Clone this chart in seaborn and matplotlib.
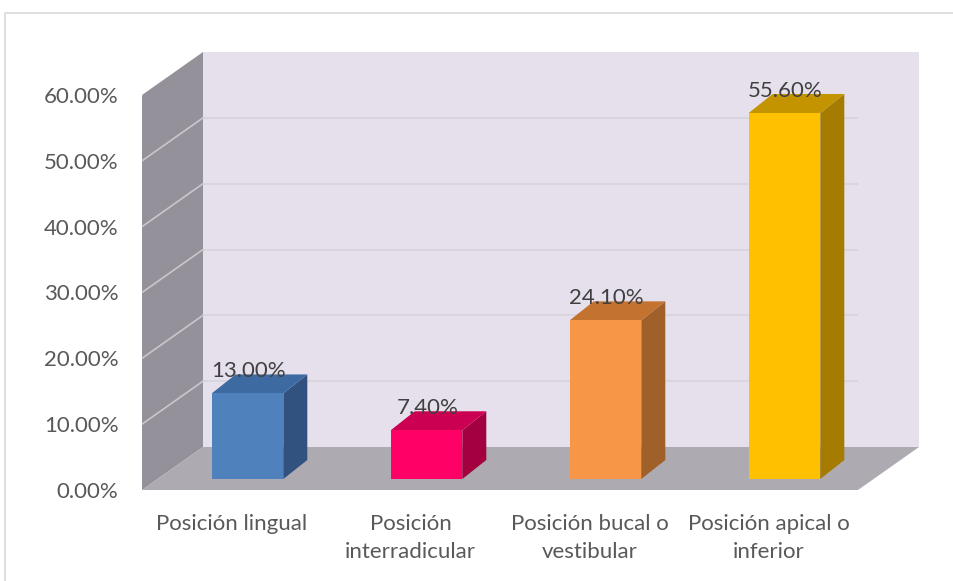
import matplotlib
matplotlib.use("Agg")
import matplotlib.pyplot as plt
from matplotlib.patches import Polygon, Rectangle
from matplotlib.transforms import IdentityTransform, ScaledTranslation
import numpy as np
import pandas as pd
import seaborn as sns

# ---------------- data ----------------
categories = ["Posición lingual", "Posición interradicular",
              "Posición bucal o vestibular", "Posición apical o inferior"]
tick_labels = ["Posición lingual", "Posición\ninterradicular",
               "Posición bucal o\nvestibular", "Posición apical o\ninferior"]
values = [0.130, 0.074, 0.241, 0.556]
value_labels = ["13.00%", "7.40%", "24.10%", "55.60%"]
y_ticks = [0.0, 0.1, 0.2, 0.3, 0.4, 0.5, 0.6]

front_colors = ["#4F81BD", "#FF0066", "#F79646", "#FFC000"]
top_colors = ["#3E6AA2", "#CC0052", "#C4722F", "#C49300"]
side_colors = ["#31527F", "#A3003F", "#A0602A", "#A67C00"]

# ---------------- style ----------------
sns.set_theme(style="white")
plt.rcParams["font.family"] = ["Lato", "DejaVu Sans"]

W, H, DPI = 954, 581, 100
fig = plt.figure(figsize=(W / DPI, H / DPI), dpi=DPI)
fig.patch.set_facecolor("white")

# chart-area border
fig.patches.append(Rectangle((5 / W, -0.05), 1.0, 1 - 13 / H + 0.05,
                             transform=fig.transFigure, fill=False,
                             edgecolor="#D9D9D9", linewidth=1.2, zorder=0))

# front plane of the 3-D box
left_px, right_px, top_px, bottom_px = 142, 858, 95, 490
ax = fig.add_axes([left_px / W, (H - bottom_px) / H,
                   (right_px - left_px) / W, (bottom_px - top_px) / H])
ax.set_facecolor("none")

df = pd.DataFrame({"cat": categories, "val": values})
sns.barplot(data=df, x="cat", y="val", hue="cat", palette=front_colors,
            width=0.4, saturation=1, legend=False, ax=ax, zorder=5,
            linewidth=0)
bar_patches = list(ax.patches)
ax.set_xlim(-0.5, 3.5)
ax.set_ylim(0, 0.6)
for s in ax.spines.values():
    s.set_visible(False)

# depth offsets in pixels (display: y up)
OFF_FRONT = np.array([16.0, 11.0])
OFF_BACK = np.array([40.0, 30.0])
OFF_WALL = np.array([61.0, 43.0])


def P(x, y, off=(0.0, 0.0)):
    return ax.transData.transform((x, y)) + np.asarray(off)


def poly(pts, color, z):
    p = Polygon(np.array(pts), closed=True, facecolor=color, edgecolor="none",
                linewidth=0, transform=IdentityTransform(), zorder=z,
                clip_on=False)
    ax.add_artist(p)
    return p


x0, x1 = -0.5, 3.5
ymax = 0.6
O = (0, 0)
# back wall, left wall, floor
poly([P(x0, 0, OFF_WALL), P(x1, 0, OFF_WALL), P(x1, ymax, OFF_WALL),
      P(x0, ymax, OFF_WALL)], "#E6E0EC", 1)
poly([P(x0, 0, O), P(x0, ymax, O), P(x0, ymax, OFF_WALL),
      P(x0, 0, OFF_WALL)], "#95919A", 1)
poly([P(x0, 0, O), P(x1, 0, O), P(x1, 0, OFF_WALL),
      P(x0, 0, OFF_WALL)], "#ADAAB1", 1.5)

# gridlines
for t in y_ticks[1:]:
    a, b = P(x0, t, OFF_WALL), P(x1, t, OFF_WALL)
    ax.add_artist(plt.Line2D([a[0], b[0]], [a[1], b[1]], color="#D6D3DB",
                             lw=1.2, transform=IdentityTransform(), zorder=2))
    a, b = P(x0, t, O), P(x0, t, OFF_WALL)
    ax.add_artist(plt.Line2D([a[0], b[0]], [a[1], b[1]], color="#C9C7CD",
                             lw=1.2, transform=IdentityTransform(), zorder=2))

# 3-D bars: shift seaborn front faces into depth and add top/side faces
shift = ScaledTranslation(OFF_FRONT[0] / DPI, OFF_FRONT[1] / DPI,
                          fig.dpi_scale_trans)
for i, patch in enumerate(bar_patches):
    bx = patch.get_x()
    bw = patch.get_width()
    h = patch.get_height()
    patch.set_transform(ax.transData + shift)
    bx1 = bx + bw
    # side face
    poly([P(bx1, 0, OFF_FRONT), P(bx1, h, OFF_FRONT), P(bx1, h, OFF_BACK),
          P(bx1, 0, OFF_BACK)], side_colors[i], 4)
    # top face
    poly([P(bx, h, OFF_FRONT), P(bx1, h, OFF_FRONT), P(bx1, h, OFF_BACK),
          P(bx, h, OFF_BACK)], top_colors[i], 4)
    # value label
    cx = P(bx + bw / 2, h, OFF_FRONT)[0] + 1
    ty = P(bx, h, OFF_BACK)[1] - 3
    ax.text(cx, ty, value_labels[i], transform=IdentityTransform(),
            ha="center", va="baseline", fontsize=16, color="#404040",
            zorder=6)

# axes ticks & labels
ax.set_yticks(y_ticks)
ax.set_yticklabels([f"{t * 100:.2f}%" for t in y_ticks])
ax.set_xticks(range(len(categories)))
ax.set_xticklabels(tick_labels)
ax.tick_params(axis="y", length=0, pad=17, labelsize=16, labelcolor="#595959")
ax.tick_params(axis="x", length=0, pad=17, labelsize=16, labelcolor="#595959")
for lab in ax.get_xticklabels():
    lab.set_linespacing(1.5)
ax.set_xlabel("")
ax.set_ylabel("")

fig.savefig("out.png", dpi=DPI, facecolor="white")
